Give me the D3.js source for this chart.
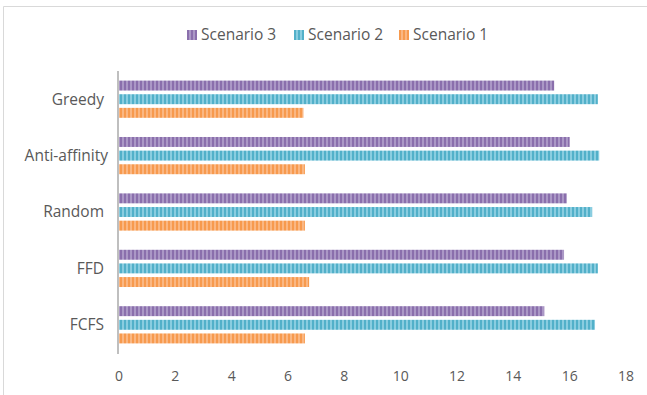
<!DOCTYPE html>
<html>
<head>
<meta charset="utf-8">
<script src="https://cdn.jsdelivr.net/npm/d3@7"></script>
<style>
  body { margin: 0; background: #fff; }
  svg text { font-family: "Open Sans", "Liberation Sans", sans-serif; fill: #595959; }
</style>
</head>
<body>
<div id="chart"></div>
<script>
const categories = ["Greedy", "Anti-affinity", "Random", "FFD", "FCFS"];
const seriesNames = ["Scenario 3", "Scenario 2", "Scenario 1"];
const scenario3 = [15.45, 16.0, 15.9, 15.8, 15.1];
const scenario2 = [17.0, 17.05, 16.8, 17.0, 16.9];
const scenario1 = [6.55, 6.6, 6.6, 6.75, 6.6];
const xTicks = [0, 2, 4, 6, 8, 10, 12, 14, 16, 18];

const colors = {
    "Scenario 3": ["#8a6fac", "#ab98c6"],
    "Scenario 2": ["#52b0c9", "#8acde0"],
    "Scenario 1": ["#f79a4e", "#fab783"]
};

const width = 647, height = 395;
const margin = { top: 71, right: 20, bottom: 41, left: 119 };

const svg = d3.select("#chart")
    .append("svg")
    .attr("width", width)
    .attr("height", height);

// stripe patterns like the excel fill
const defs = svg.append("defs");
seriesNames.forEach((s, i) => {
    const p = defs.append("pattern")
        .attr("id", "pat" + i)
        .attr("patternUnits", "userSpaceOnUse")
        .attr("width", 4)
        .attr("height", 4);
    p.append("rect").attr("width", 4).attr("height", 4).attr("fill", colors[s][1]);
    p.append("rect").attr("width", 2).attr("height", 4).attr("fill", colors[s][0]);
});

// chart border (top + left visible)
svg.append("path")
    .attr("d", `M3.5,${height} L3.5,6.5 L${width},6.5`)
    .attr("fill", "none")
    .attr("stroke", "#d9d9d9")
    .attr("stroke-width", 1);

const x = d3.scaleLinear()
    .domain([0, 18])
    .range([margin.left, width - margin.right - 1]);

const y = d3.scaleBand()
    .domain(categories)
    .range([margin.top, height - margin.bottom - 1])
    .paddingInner(0.34)
    .paddingOuter(0.17);

const ySub = d3.scaleBand()
    .domain(seriesNames)
    .range([0, y.bandwidth()])
    .paddingInner(0.27);

const rows = categories.map((c, i) => ({
    cat: c,
    values: [scenario3[i], scenario2[i], scenario1[i]]
}));

const groups = svg.selectAll("g.cat")
    .data(rows)
    .enter()
    .append("g")
    .attr("class", "cat")
    .attr("transform", d => `translate(0,${y(d.cat)})`);

groups.selectAll("rect")
    .data(d => d.values.map((v, i) => ({ name: seriesNames[i], value: v, idx: i })))
    .enter()
    .append("rect")
    .attr("x", x(0))
    .attr("y", d => ySub(d.name))
    .attr("width", d => x(d.value) - x(0))
    .attr("height", ySub.bandwidth())
    .attr("fill", d => `url(#pat${d.idx})`);

// category labels
svg.selectAll("text.cat")
    .data(categories)
    .enter()
    .append("text")
    .attr("class", "cat")
    .attr("x", d => d === "Anti-affinity" ? 108 : 104)
    .attr("y", d => y(d) + y.bandwidth() / 2)
    .attr("dy", "0.35em")
    .attr("text-anchor", "end")
    .attr("font-size", "15.5px")
    .text(d => d);

// vertical axis line
svg.append("line")
    .attr("x1", x(0) - 1)
    .attr("x2", x(0) - 1)
    .attr("y1", margin.top)
    .attr("y2", height - margin.bottom)
    .attr("stroke", "#bfbfbf")
    .attr("stroke-width", 2);

// x tick labels
svg.selectAll("text.tick")
    .data(xTicks)
    .enter()
    .append("text")
    .attr("class", "tick")
    .attr("x", d => x(d))
    .attr("y", 381)
    .attr("text-anchor", "middle")
    .attr("font-size", "14px")
    .text(d => d);

// legend
const legendX = [187, 294, 399];
const legend = svg.selectAll("g.legend")
    .data(seriesNames)
    .enter()
    .append("g")
    .attr("class", "legend")
    .attr("transform", (d, i) => `translate(${legendX[i]},35)`);

legend.append("rect")
    .attr("x", 0)
    .attr("y", -5)
    .attr("width", 10)
    .attr("height", 10)
    .attr("fill", (d, i) => `url(#pat${i})`);

legend.append("text")
    .attr("x", 14)
    .attr("y", 0)
    .attr("dy", "0.35em")
    .attr("font-size", "15.5px")
    .text(d => d);
</script>
</body>
</html>
